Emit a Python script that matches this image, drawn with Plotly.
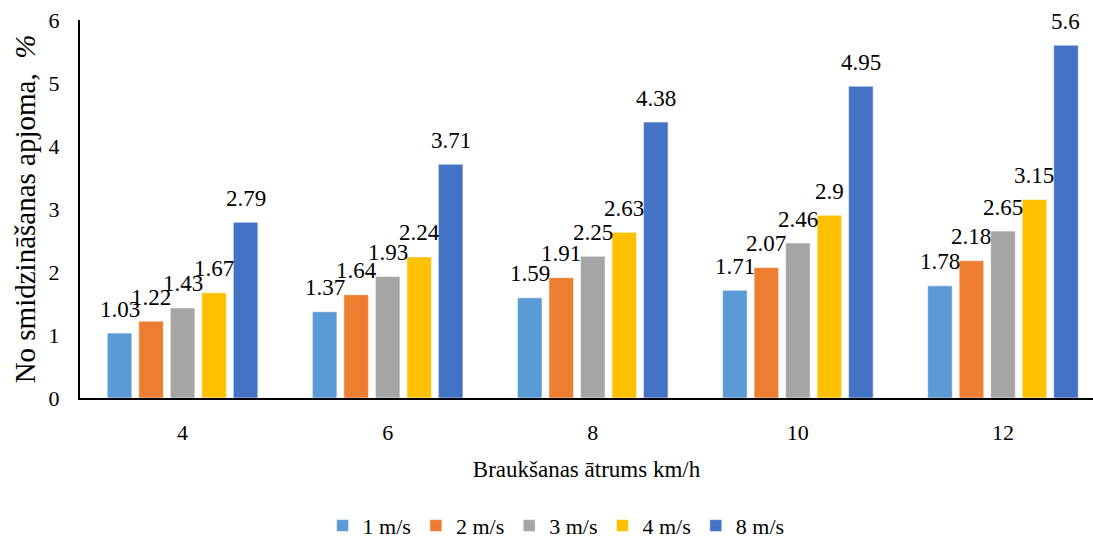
import plotly.graph_objects as go

categories = ["4", "6", "8", "10", "12"]
series_names = ["1 m/s", "2 m/s", "3 m/s", "4 m/s", "8 m/s"]
v1 = [1.03, 1.37, 1.59, 1.71, 1.78]
v2 = [1.22, 1.64, 1.91, 2.07, 2.18]
v3 = [1.43, 1.93, 2.25, 2.46, 2.65]
v4 = [1.67, 2.24, 2.63, 2.90, 3.15]
v8 = [2.79, 3.71, 4.38, 4.95, 5.60]
label1 = ["1.03", "1.37", "1.59", "1.71", "1.78"]
label2 = ["1.22", "1.64", "1.91", "2.07", "2.18"]
label3 = ["1.43", "1.93", "2.25", "2.46", "2.65"]
label4 = ["1.67", "2.24", "2.63", "2.9", "3.15"]
label8 = ["2.79", "3.71", "4.38", "4.95", "5.6"]
y_ticks = [0, 1, 2, 3, 4, 5, 6]

colors = ["#5B9BD5", "#ED7D31", "#A5A5A5", "#FFC000", "#4472C4"]
values = [v1, v2, v3, v4, v8]
labels = [label1, label2, label3, label4, label8]

FONT = "Liberation Serif"
BARGAP = 0.232
GROUPGAP = 0.22

xpos = list(range(len(categories)))

fig = go.Figure()
for name, vals, col in zip(series_names, values, colors):
    fig.add_trace(go.Bar(
        x=xpos, y=vals, name=name,
        marker=dict(color=col, line=dict(color="rgba(255,255,255,0.55)", width=1)),
    ))

n = len(series_names)
slot = (1 - BARGAP) / n
annotations = []
for i, (vals, labs) in enumerate(zip(values, labels)):
    for j, (v, t) in enumerate(zip(vals, labs)):
        annotations.append(dict(
            x=xpos[j] + (i - (n - 1) / 2) * slot, y=v, xref="x", yref="y",
            text=t, showarrow=False, yanchor="middle", yshift=24,
            font=dict(family=FONT, size=23, color="#000000"),
        ))

fig.update_layout(
    width=1093, height=542,
    margin=dict(l=80, r=0, t=20, b=144, autoexpand=False),
    paper_bgcolor="white", plot_bgcolor="white",
    barmode="group", bargap=BARGAP, bargroupgap=GROUPGAP,
    font=dict(family=FONT, size=22, color="#000000"),
    annotations=annotations,
    legend=dict(orientation="h", x=0.47, xanchor="center", y=-0.338, yanchor="middle",
                font=dict(family=FONT, size=22, color="#000000"), itemwidth=30,
                traceorder="normal"),
    xaxis=dict(
        range=[-0.5, 4.439], tickmode="array", tickvals=xpos, ticktext=categories,
        showline=True, linecolor="#000000", linewidth=2, showgrid=False, zeroline=False,
        ticks="", ticklabelstandoff=14,
        tickfont=dict(family=FONT, size=22),
        title=dict(text="Braukšanas ātrums km/h", font=dict(family=FONT, size=23), standoff=16),
    ),
    yaxis=dict(
        range=[0, 6], tickmode="array", tickvals=y_ticks,
        showline=True, linecolor="#000000", linewidth=2, showgrid=False, zeroline=False,
        ticks="", ticklabelstandoff=14,
        tickfont=dict(family=FONT, size=22),
        title=dict(text="No smidzināšanas apjoma,  <i>%</i>", font=dict(family=FONT, size=29), standoff=4),
    ),
)

fig.write_html("out.html", config={"displayModeBar": False},
               post_script="document.body.style.margin='0';")
